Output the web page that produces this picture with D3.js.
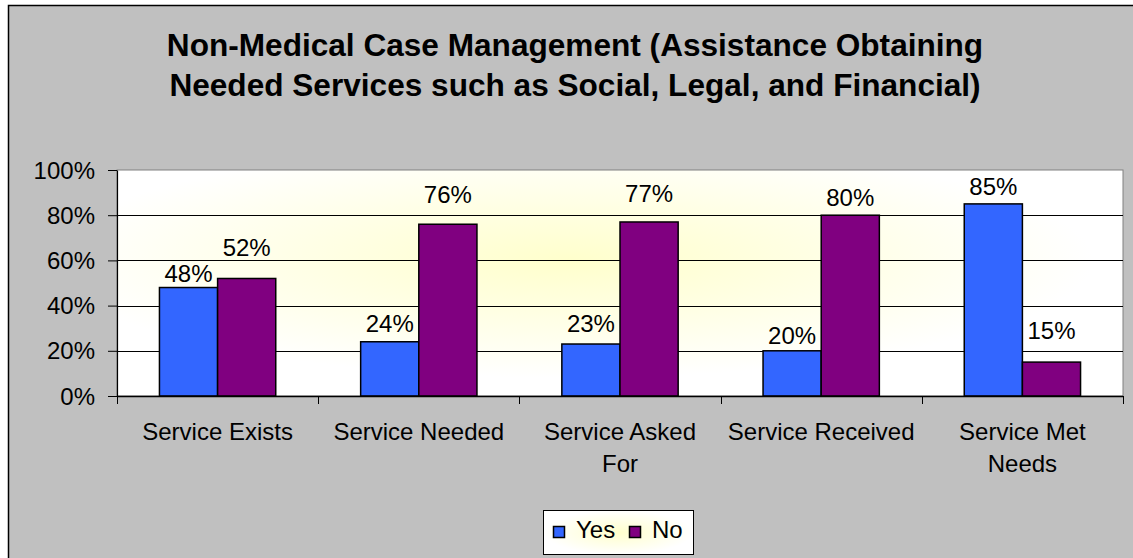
<!DOCTYPE html>
<html>
<head>
<meta charset="utf-8">
<script src="https://cdn.jsdelivr.net/npm/d3@7"></script>
<style>
  html, body { margin: 0; padding: 0; background: #ffffff; }
  svg { display: block; }
  text { font-family: "Liberation Sans", Arial, sans-serif; fill: #000; }
</style>
</head>
<body>
<svg id="chart" width="1133" height="558"></svg>
<script>
const titleLines = ["Non-Medical Case Management (Assistance Obtaining", "Needed Services such as Social, Legal, and Financial)"];
const categories = ["Service Exists", "Service Needed", "Service Asked For", "Service Received", "Service Met Needs"];
const seriesNames = ["Yes", "No"];
const yesValues = [48, 24, 23, 20, 85];
const noValues = [52, 76, 77, 80, 15];
const yTicks = [0, 20, 40, 60, 80, 100];
const seriesColors = ["#3366FF", "#800080"];
// layout: gap (px) between bar top and its label baseline, as placed in the original
const yesLabelLift = [6, 10, 12, 7, 9];
const noLabelLift = [22, 21, 20, 9, 23];

const svg = d3.select("#chart");
const W = 1133, H = 558;
const plot = { left: 117, right: 1123, top: 170, bottom: 396 };

const defs = svg.append("defs");
const g1 = defs.append("radialGradient").attr("id", "plotGrad")
  .attr("cx", 0.45).attr("cy", 0.4).attr("r", 0.52).attr("fx", 0.45).attr("fy", 0.4);
g1.append("stop").attr("offset", "0%").attr("stop-color", "#FFFFCC");
g1.append("stop").attr("offset", "100%").attr("stop-color", "#FFFFFF");
const g2 = defs.append("radialGradient").attr("id", "legGrad")
  .attr("cx", 0.5).attr("cy", 0.5).attr("r", 0.5);
g2.append("stop").attr("offset", "0%").attr("stop-color", "#FFFFCC");
g2.append("stop").attr("offset", "100%").attr("stop-color", "#FFFFFF");

// chart area
svg.append("rect").attr("x", 8.5).attr("y", 5.5).attr("width", W + 20).attr("height", H + 20)
  .attr("fill", "#C0C0C0").attr("stroke", "#000").attr("stroke-width", 1.5);

// title
svg.append("text").attr("x", 575).attr("y", 56).attr("text-anchor", "middle")
  .style("font-size", "31.6px").style("font-weight", "bold")
  .selectAll("tspan").data(titleLines).join("tspan")
  .attr("x", 575).attr("dy", (d, i) => i === 0 ? 0 : 40).text(d => d);

// scales
const x0 = d3.scaleBand().domain(categories).range([plot.left, plot.right]).paddingInner(0).paddingOuter(0);
const x1 = d3.scaleBand().domain(seriesNames).range([0, x0.bandwidth()]).paddingInner(0).paddingOuter(0.73);
const y = d3.scaleLinear().domain([0, 100]).range([plot.bottom, plot.top]);

// plot area
svg.append("rect").attr("x", plot.left).attr("y", plot.top)
  .attr("width", plot.right - plot.left).attr("height", plot.bottom - plot.top)
  .attr("fill", "url(#plotGrad)").attr("stroke", "#808080").attr("stroke-width", 1);

// gridlines
svg.append("g").selectAll("line").data(yTicks.filter(t => t > 0 && t < 100)).join("line")
  .attr("x1", plot.left).attr("x2", plot.right)
  .attr("y1", d => Math.round(y(d)) + 0.5).attr("y2", d => Math.round(y(d)) + 0.5)
  .attr("stroke", "#000").attr("stroke-width", 1);

// bars
const lifts = [yesLabelLift, noLabelLift];
const data = categories.map((c, i) => ({ cat: c, i, vals: [yesValues[i], noValues[i]] }));
const groups = svg.append("g").selectAll("g").data(data).join("g")
  .attr("transform", d => `translate(${x0(d.cat)},0)`);
groups.selectAll("rect").data(d => d.vals.map((v, j) => ({ name: seriesNames[j], v, j, i: d.i }))).join("rect")
  .attr("x", d => x1(d.name)).attr("width", x1.bandwidth())
  .attr("y", d => y(d.v)).attr("height", d => y(0) - y(d.v))
  .attr("fill", d => seriesColors[d.j]).attr("stroke", "#000").attr("stroke-width", 1.5);
groups.selectAll("text").data(d => d.vals.map((v, j) => ({ name: seriesNames[j], v, j, i: d.i }))).join("text")
  .attr("x", d => x1(d.name) + x1.bandwidth() / 2).attr("y", d => y(d.v) - lifts[d.j][d.i])
  .attr("text-anchor", "middle").style("font-size", "24px")
  .text(d => d.v + "%");

// y axis
const yAxis = svg.append("g").attr("transform", `translate(${plot.left},0)`)
  .call(d3.axisLeft(y).tickValues(yTicks).tickFormat(d => d + "%").tickSize(9).tickSizeOuter(0).tickPadding(13));
yAxis.select(".domain").attr("stroke", "#000").attr("stroke-width", 1.2);
yAxis.selectAll(".tick line").attr("stroke", "#000");
yAxis.selectAll(".tick text").style("font-size", "24px").style("font-family", "'Liberation Sans', Arial, sans-serif").attr("fill", "#000").attr("dy", "0.34em");

// x axis
const xg = svg.append("g");
xg.append("line").attr("x1", plot.left).attr("x2", plot.right)
  .attr("y1", plot.bottom + 0.5).attr("y2", plot.bottom + 0.5).attr("stroke", "#000").attr("stroke-width", 1.5);
const boundaries = categories.map(c => x0(c)).concat([x0.range()[1]]);
xg.selectAll("line.tk").data(boundaries).join("line").attr("class", "tk")
  .attr("x1", d => Math.round(d) + 0.5).attr("x2", d => Math.round(d) + 0.5)
  .attr("y1", plot.bottom).attr("y2", plot.bottom + 8).attr("stroke", "#000");

const maxW = 192;
const labels = xg.selectAll("text.cl").data(categories).join("text").attr("class", "cl")
  .attr("x", d => x0(d) + x0.bandwidth() / 2).attr("y", 440)
  .attr("text-anchor", "middle").style("font-size", "24px");
labels.each(function (d) {
  const t = d3.select(this);
  const words = d.split(" ");
  let lines = [], cur = [];
  const probe = t.append("tspan");
  words.forEach(w => {
    const test = cur.concat([w]).join(" ");
    probe.text(test);
    if (probe.node().getComputedTextLength() > maxW && cur.length) {
      lines.push(cur.join(" ")); cur = [w];
    } else cur.push(w);
  });
  lines.push(cur.join(" "));
  probe.remove();
  const cx = x0(d) + x0.bandwidth() / 2;
  t.selectAll("tspan").data(lines).join("tspan").attr("x", cx)
    .attr("dy", (l, i) => i === 0 ? 0 : 32).text(l => l);
});

// legend
const leg = svg.append("g");
leg.append("rect").attr("x", 543.5).attr("y", 510.5).attr("width", 150).attr("height", 44)
  .attr("fill", "url(#legGrad)").attr("stroke", "#000").attr("stroke-width", 1);
const legX = [553, 629];
seriesNames.forEach((s, i) => {
  leg.append("rect").attr("x", legX[i] + 0.5).attr("y", 526.5).attr("width", 11).attr("height", 11)
    .attr("fill", seriesColors[i]).attr("stroke", "#000").attr("stroke-width", 1.5);
  leg.append("text").attr("x", legX[i] + 23).attr("y", 538).style("font-size", "24px").text(s);
});
</script>
</body>
</html>
